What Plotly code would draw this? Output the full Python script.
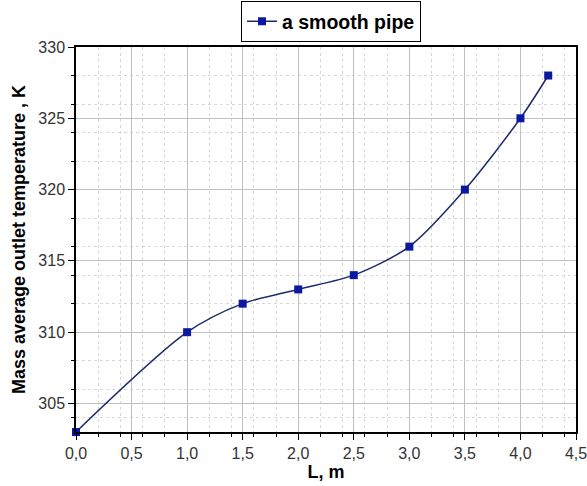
import plotly.graph_objects as go

L_m = [0.0, 1.0, 1.5, 2.0, 2.5, 3.0, 3.5, 4.0, 4.25]
T_K = [303, 310, 312, 313, 314, 316, 320, 325, 328]
series_name = "a smooth pipe"
x_ticks = [0.0, 0.5, 1.0, 1.5, 2.0, 2.5, 3.0, 3.5, 4.0, 4.5]
y_ticks = [305, 310, 315, 320, 325, 330]

FONT = "Liberation Sans, Arial"

fig = go.Figure()
fig.add_trace(go.Scatter(
    x=L_m, y=T_K, name="<b>" + series_name + "</b>", mode="lines+markers",
    line=dict(color="#1c2a6b", width=1.5, shape="spline", smoothing=0.8),
    marker=dict(symbol="square", size=8, color="#0a1aa0"),
    cliponaxis=False,
))

axis_common = dict(
    showline=True, linecolor="black", linewidth=1.5, mirror=True,
    ticks="outside", ticklen=6, tickcolor="black", tickwidth=1,
    showgrid=True, gridcolor="#c0c0c0", gridwidth=1,
    zeroline=False, ticklabeloverflow="allow",
    tickfont=dict(family=FONT, size=16, color="#333333"),
    minor=dict(ticks="outside", ticklen=3, tickcolor="black", showgrid=True,
               gridcolor="#d8d8d8", griddash="dot"),
)

fig.update_xaxes(
    range=[0, 4.5], tickvals=x_ticks, tickformat=".1f",
    title=dict(text="<b>L, m</b>", font=dict(family=FONT, size=18, color="black"), standoff=4),
    **axis_common,
)
fig.update_yaxes(
    range=[303, 330], tickvals=y_ticks,
    title=dict(text="<b>Mass average outlet temperature , K</b>", font=dict(family=FONT, size=18, color="black"), standoff=8),
    **axis_common,
)
fig.update_layout(
    width=587, height=486,
    margin=dict(l=76, r=11, t=47, b=54, autoexpand=False),
    plot_bgcolor="white", paper_bgcolor="white",
    separators=",.",
    showlegend=True,
    legend=dict(x=0.33, y=1.066, xanchor="left", yanchor="middle",
                bordercolor="black", borderwidth=1, bgcolor="white",
                font=dict(family=FONT, size=19.5, color="black"),
                itemwidth=30, tracegroupgap=0),
)
fig.write_html("out.html", config={"displayModeBar": False},
               post_script="document.body.style.margin='0';")
